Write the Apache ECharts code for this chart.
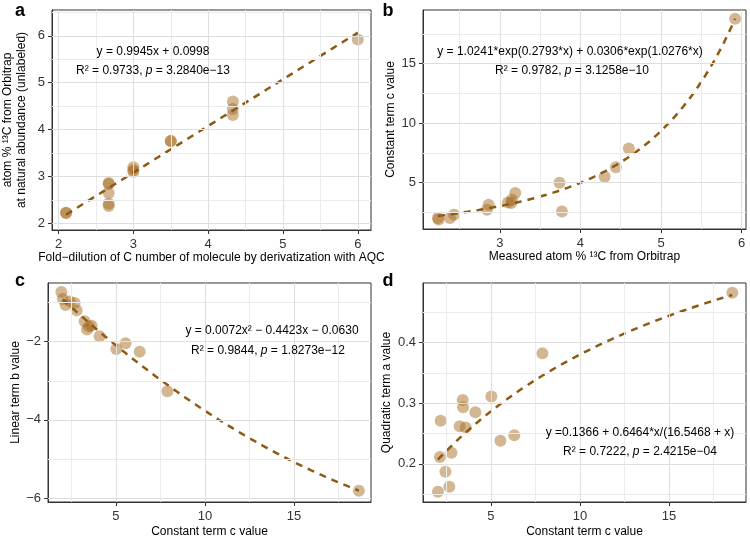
<!DOCTYPE html>
<html>
<head>
<meta charset="utf-8">
<script src="https://cdn.jsdelivr.net/npm/echarts@6/dist/echarts.min.js"></script>
<style>
  html, body { margin: 0; padding: 0; background: #fff; }
  #chart { width: 750px; height: 539px; }
</style>
</head>
<body>
<div id="chart"></div>
<script>
// panel a: fold-dilution vs measured atom %
const aX = [2.1, 2.1, 2.67, 2.67, 2.67, 2.67, 2.67, 3, 3, 3, 3.5, 3.5, 4.33, 4.33, 4.33, 6];
const aY = [2.22, 2.23, 2.86, 2.84, 2.65, 2.42, 2.37, 3.2, 3.14, 3.1, 3.75, 3.76, 4.6, 4.44, 4.31, 5.92];
// panel b: measured atom % vs constant term c
const bX = [2.23, 2.24, 2.38, 2.43, 2.84, 2.86, 3.1, 3.14, 3.15, 3.19, 3.74, 3.77, 4.3, 4.44, 4.6, 5.92];
const bY = [2.03, 1.9, 2.03, 2.3, 2.73, 3.15, 3.34, 3.3, 3.57, 4.13, 5.0, 2.59, 5.5, 6.29, 7.88, 18.78];
// panel c: constant term c vs linear term b
const cX = [1.93, 2.02, 2.17, 2.4, 2.68, 2.79, 3.24, 3.37, 3.48, 3.63, 4.08, 5.02, 5.54, 6.33, 7.89, 18.65];
const cY = [-0.73, -0.91, -1.06, -0.97, -1.01, -1.2, -1.48, -1.69, -1.61, -1.59, -1.86, -2.19, -2.04, -2.26, -3.27, -5.81];
// panel d: constant term c vs quadratic term a
const dX = [2.02, 2.17, 2.13, 2.44, 2.66, 2.78, 3.24, 3.41, 3.43, 3.58, 4.12, 5.02, 5.53, 6.31, 7.89, 18.56];
const dY = [0.154, 0.271, 0.211, 0.187, 0.162, 0.218, 0.262, 0.305, 0.293, 0.26, 0.285, 0.311, 0.238, 0.247, 0.382, 0.482];

// fit coefficients printed on the figure
const fitA = [0.9945, 0.0998];
const fitB = [1.0241, 0.2793, 0.0306, 1.0276];
const fitC = [0.0072, -0.4423, -0.063];
const fitD = [0.1366, 0.6464, 16.5468];

// tick labels
const aXTicks = [2, 3, 4, 5, 6];
const aYTicks = [2, 3, 4, 5, 6];
const bXTicks = [3, 4, 5, 6];
const bYTicks = [5, 10, 15];
const cXTicks = [5, 10, 15];
const cYTicks = [-6, -4, -2];
const dXTicks = [5, 10, 15];
const dYTicks = [0.2, 0.3, 0.4];

// minor grid lines
const aXMinor = [2.5, 3.5, 4.5, 5.5];
const aYMinor = [2.5, 3.5, 4.5, 5.5, 6.5];
const bXMinor = [2.5, 3.5, 4.5, 5.5];
const bYMinor = [2.5, 7.5, 12.5, 17.5];
const cXMinor = [2.5, 7.5, 12.5, 17.5];
const cYMinor = [-5, -3, -1];
const dXMinor = [2.5, 7.5, 12.5, 17.5];
const dYMinor = [0.15, 0.25, 0.35, 0.45];

const FONT = "Liberation Sans";
const PT_COLOR = "rgba(163,105,30,0.6)";
const LINE_COLOR = "#8C5A14";

function zip(xs, ys) {
  return xs.map((x, i) => [x, ys[i]]);
}

function curve(f, x0, x1) {
  let out = [];
  let n = 80;
  for (let i = 0; i <= n; i++) {
    let x = x0 + (x1 - x0) * i / n;
    out.push([x, f(x)]);
  }
  return out;
}

const lineA = curve(x => fitA[0] * x + fitA[1], 2.1, 6);
const lineB = curve(x => fitB[0] * Math.exp(fitB[1] * x) + fitB[2] * Math.exp(fitB[3] * x), 2.23, 5.92);
const lineC = curve(x => fitC[0] * x * x + fitC[1] * x + fitC[2], 2.0, 18.65);
const lineD = curve(x => fitD[0] + fitD[1] * x / (fitD[2] + x), 2.02, 18.56);

const grids = [
  { left: 52, top: 10, width: 319, height: 220 },
  { left: 423, top: 10, width: 323, height: 219 },
  { left: 48, top: 283, width: 323, height: 221 },
  { left: 423, top: 283, width: 323, height: 220 },
];

function fmt(v) {
  return String(v).replace("-", "\u2212");
}

function xAx(idx, min, max, ticks, name, gap) {
  return {
    type: "value", gridIndex: idx, min: min, max: max,
    name: name, nameLocation: "middle", nameGap: gap,
    nameTextStyle: { fontFamily: FONT, fontSize: 12, color: "#000" },
    axisLine: { show: true, lineStyle: { color: "#333", width: 1 } },
    axisTick: { show: true, inside: false, length: 4, customValues: ticks, lineStyle: { color: "#333" } },
    axisLabel: { customValues: ticks, formatter: fmt, fontFamily: FONT, fontSize: 13, color: "#333", margin: 8 },
    splitLine: { show: false },
  };
}

function yAx(idx, min, max, ticks, name, gap) {
  return {
    type: "value", gridIndex: idx, min: min, max: max,
    name: name, nameLocation: "middle", nameGap: gap,
    nameTextStyle: { fontFamily: FONT, fontSize: 12, color: "#000", lineHeight: 14 },
    axisLine: { show: true, lineStyle: { color: "#333", width: 1 } },
    axisTick: { show: true, inside: false, length: 4, customValues: ticks, lineStyle: { color: "#333" } },
    axisLabel: { customValues: ticks, formatter: fmt, fontFamily: FONT, fontSize: 13, color: "#333", margin: 7 },
    splitLine: { show: false },
  };
}

// background grid lines drawn as mark lines on an empty series
function gridSeries(idx, xMaj, xMin, yMaj, yMin) {
  let d = [];
  xMin.forEach(v => d.push({ xAxis: v, lineStyle: { color: "#ebebeb", width: 1, type: "solid" } }));
  yMin.forEach(v => d.push({ yAxis: v, lineStyle: { color: "#ebebeb", width: 1, type: "solid" } }));
  xMaj.forEach(v => d.push({ xAxis: v, lineStyle: { color: "#dedede", width: 1, type: "solid" } }));
  yMaj.forEach(v => d.push({ yAxis: v, lineStyle: { color: "#dedede", width: 1, type: "solid" } }));
  return {
    type: "line", xAxisIndex: idx, yAxisIndex: idx, data: [], z: 0, silent: true,
    markLine: { silent: true, symbol: ["none", "none"], label: { show: false }, animation: false, data: d },
  };
}

function pts(idx, data) {
  return {
    type: "scatter", xAxisIndex: idx, yAxisIndex: idx, data: data, z: 3,
    symbolSize: 12, itemStyle: { color: PT_COLOR }, silent: true,
  };
}

function fit(idx, data) {
  return {
    type: "line", xAxisIndex: idx, yAxisIndex: idx, data: data, z: 4,
    showSymbol: false, smooth: false, silent: true,
    lineStyle: { color: LINE_COLOR, width: 2.5, type: [7, 6] },
  };
}

const rich = { i: { fontStyle: "italic", fontFamily: FONT, fontSize: 12, color: "#000" } };
// annotation text placed as title components (centered on left/top)
function txt(x, y, s) {
  return {
    text: s, left: x, top: y - 7, textAlign: "center", padding: 0, itemGap: 0,
    textStyle: { fontFamily: FONT, fontSize: 12, fontWeight: "normal", color: "#000", rich: rich },
  };
}
function tag(x, y, s) {
  return {
    text: s, left: x, top: y - 11, textAlign: "center", padding: 0,
    textStyle: { fontFamily: FONT, fontSize: 18, fontWeight: "bold", color: "#000" },
  };
}

let myChart = echarts.init(document.getElementById("chart"), null, { renderer: "canvas" });

myChart.setOption({
  animation: false,
  title: [
    tag(20, 13, "a"), tag(388, 13, "b"), tag(20, 283, "c"), tag(388, 283, "d"),
    txt(153, 53, "y = 0.9945x + 0.0998"),
    txt(153, 72, "R\u00b2 = 0.9733, {i|p} = 3.2840e\u221213"),
    txt(570, 53, "y = 1.0241*exp(0.2793*x) + 0.0306*exp(1.0276*x)"),
    txt(572, 72, "R\u00b2 = 0.9782, {i|p} = 3.1258e\u221210"),
    txt(272, 332, "y = 0.0072x\u00b2 \u2212 0.4423x \u2212 0.0630"),
    txt(268, 352, "R\u00b2 = 0.9844, {i|p} = 1.8273e\u221212"),
    txt(640, 434, "y =0.1366 + 0.6464*x/(16.5468 + x)"),
    txt(640, 453, "R\u00b2 = 0.7222, {i|p} = 2.4215e\u221204"),
  ],
  grid: grids.map(g => Object.assign({ show: true, borderColor: "#333", borderWidth: 1, backgroundColor: "#fff" }, g)),
  xAxis: [
    xAx(0, 1.912, 6.177, aXTicks, "Fold\u2212dilution of C number of molecule by derivatization with AQC", 22),
    xAx(1, 2.045, 6.055, bXTicks, "Measured atom % \u00b9\u00b3C from Orbitrap", 22),
    xAx(2, 1.18, 19.33, cXTicks, "Constant term c value", 24),
    xAx(3, 1.18, 19.33, dXTicks, "Constant term c value", 24),
  ],
  yAxis: [
    yAx(0, 1.86, 6.55, aYTicks, "atom % \u00b9\u00b3C from Orbitrap\nat natural abundance (unlabeled)", 23),
    yAx(1, 1.11, 19.51, bYTicks, "Constant term c value", 25),
    yAx(2, -6.1, -0.5, cYTicks, "Linear term b value", 25),
    yAx(3, 0.137, 0.498, dYTicks, "Quadratic term a value", 25),
  ],
  series: [
    gridSeries(0, aXTicks, aXMinor, aYTicks, aYMinor),
    gridSeries(1, bXTicks, bXMinor, bYTicks, bYMinor),
    gridSeries(2, cXTicks, cXMinor, cYTicks, cYMinor),
    gridSeries(3, dXTicks, dXMinor, dYTicks, dYMinor),
    pts(0, zip(aX, aY)), fit(0, lineA),
    pts(1, zip(bX, bY)), fit(1, lineB),
    pts(2, zip(cX, cY)), fit(2, lineC),
    pts(3, zip(dX, dY)), fit(3, lineD),
  ],
});
</script>
</body>
</html>
